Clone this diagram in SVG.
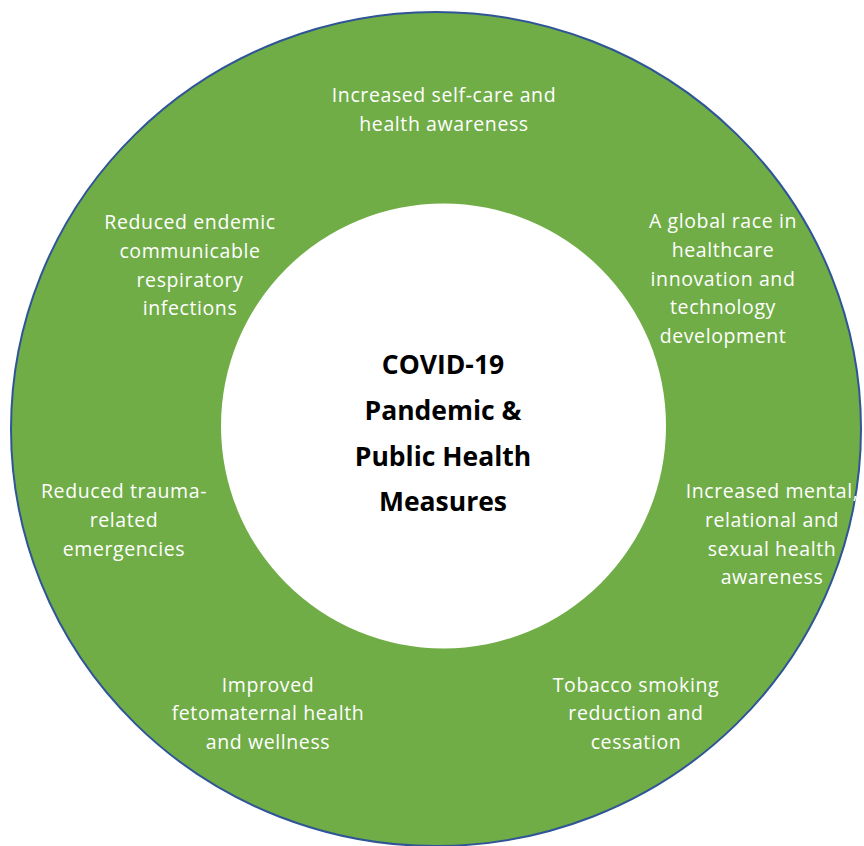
<svg xmlns="http://www.w3.org/2000/svg" width="864" height="846" viewBox="0 0 864 846">
<style>
.lbl{font-family:"Open Sans","Liberation Sans",sans-serif;font-size:19.5px;letter-spacing:0.6px;fill:#ffffff;text-anchor:middle}
.ctr{font-family:"Open Sans","Liberation Sans",sans-serif;font-size:26.5px;font-weight:bold;fill:#000000;text-anchor:middle}
</style>
<rect width="864" height="846" fill="#ffffff"/>
<g id="ring">
<ellipse cx="436" cy="429" rx="425" ry="417" fill="#70AD47" stroke="#2F5597" stroke-width="2"/>
</g>
<g id="center">
<circle cx="443.5" cy="426" r="222.5" fill="#ffffff"/>
<text class="ctr" x="443" y="374">COVID-19</text>
<text class="ctr" x="443" y="420">Pandemic &amp;</text>
<text class="ctr" x="443" y="466">Public Health</text>
<text class="ctr" x="443" y="511">Measures</text>
</g>
<g id="connectors"></g>
<g id="n1"><text class="lbl" x="444" y="102">Increased self-care and</text><text class="lbl" x="444" y="131">health awareness</text></g>
<g id="n2"><text class="lbl" x="190" y="229">Reduced endemic</text><text class="lbl" x="190" y="258">communicable</text><text class="lbl" x="190" y="287">respiratory</text><text class="lbl" x="190" y="315">infections</text></g>
<g id="n3"><text class="lbl" x="723" y="228">A global race in</text><text class="lbl" x="723" y="257">healthcare</text><text class="lbl" x="723" y="286">innovation and</text><text class="lbl" x="723" y="314">technology</text><text class="lbl" x="723" y="343">development</text></g>
<g id="n4"><text class="lbl" x="124" y="498">Reduced trauma-</text><text class="lbl" x="124" y="527">related</text><text class="lbl" x="124" y="556">emergencies</text></g>
<g id="n5"><text class="lbl" x="772" y="498">Increased mental,</text><text class="lbl" x="772" y="527">relational and</text><text class="lbl" x="772" y="556">sexual health</text><text class="lbl" x="772" y="584">awareness</text></g>
<g id="n6"><text class="lbl" x="268" y="692">Improved</text><text class="lbl" x="268" y="720">fetomaternal health</text><text class="lbl" x="268" y="749">and wellness</text></g>
<g id="n7"><text class="lbl" x="636" y="692">Tobacco smoking</text><text class="lbl" x="636" y="720">reduction and</text><text class="lbl" x="636" y="749">cessation</text></g>
</svg>
